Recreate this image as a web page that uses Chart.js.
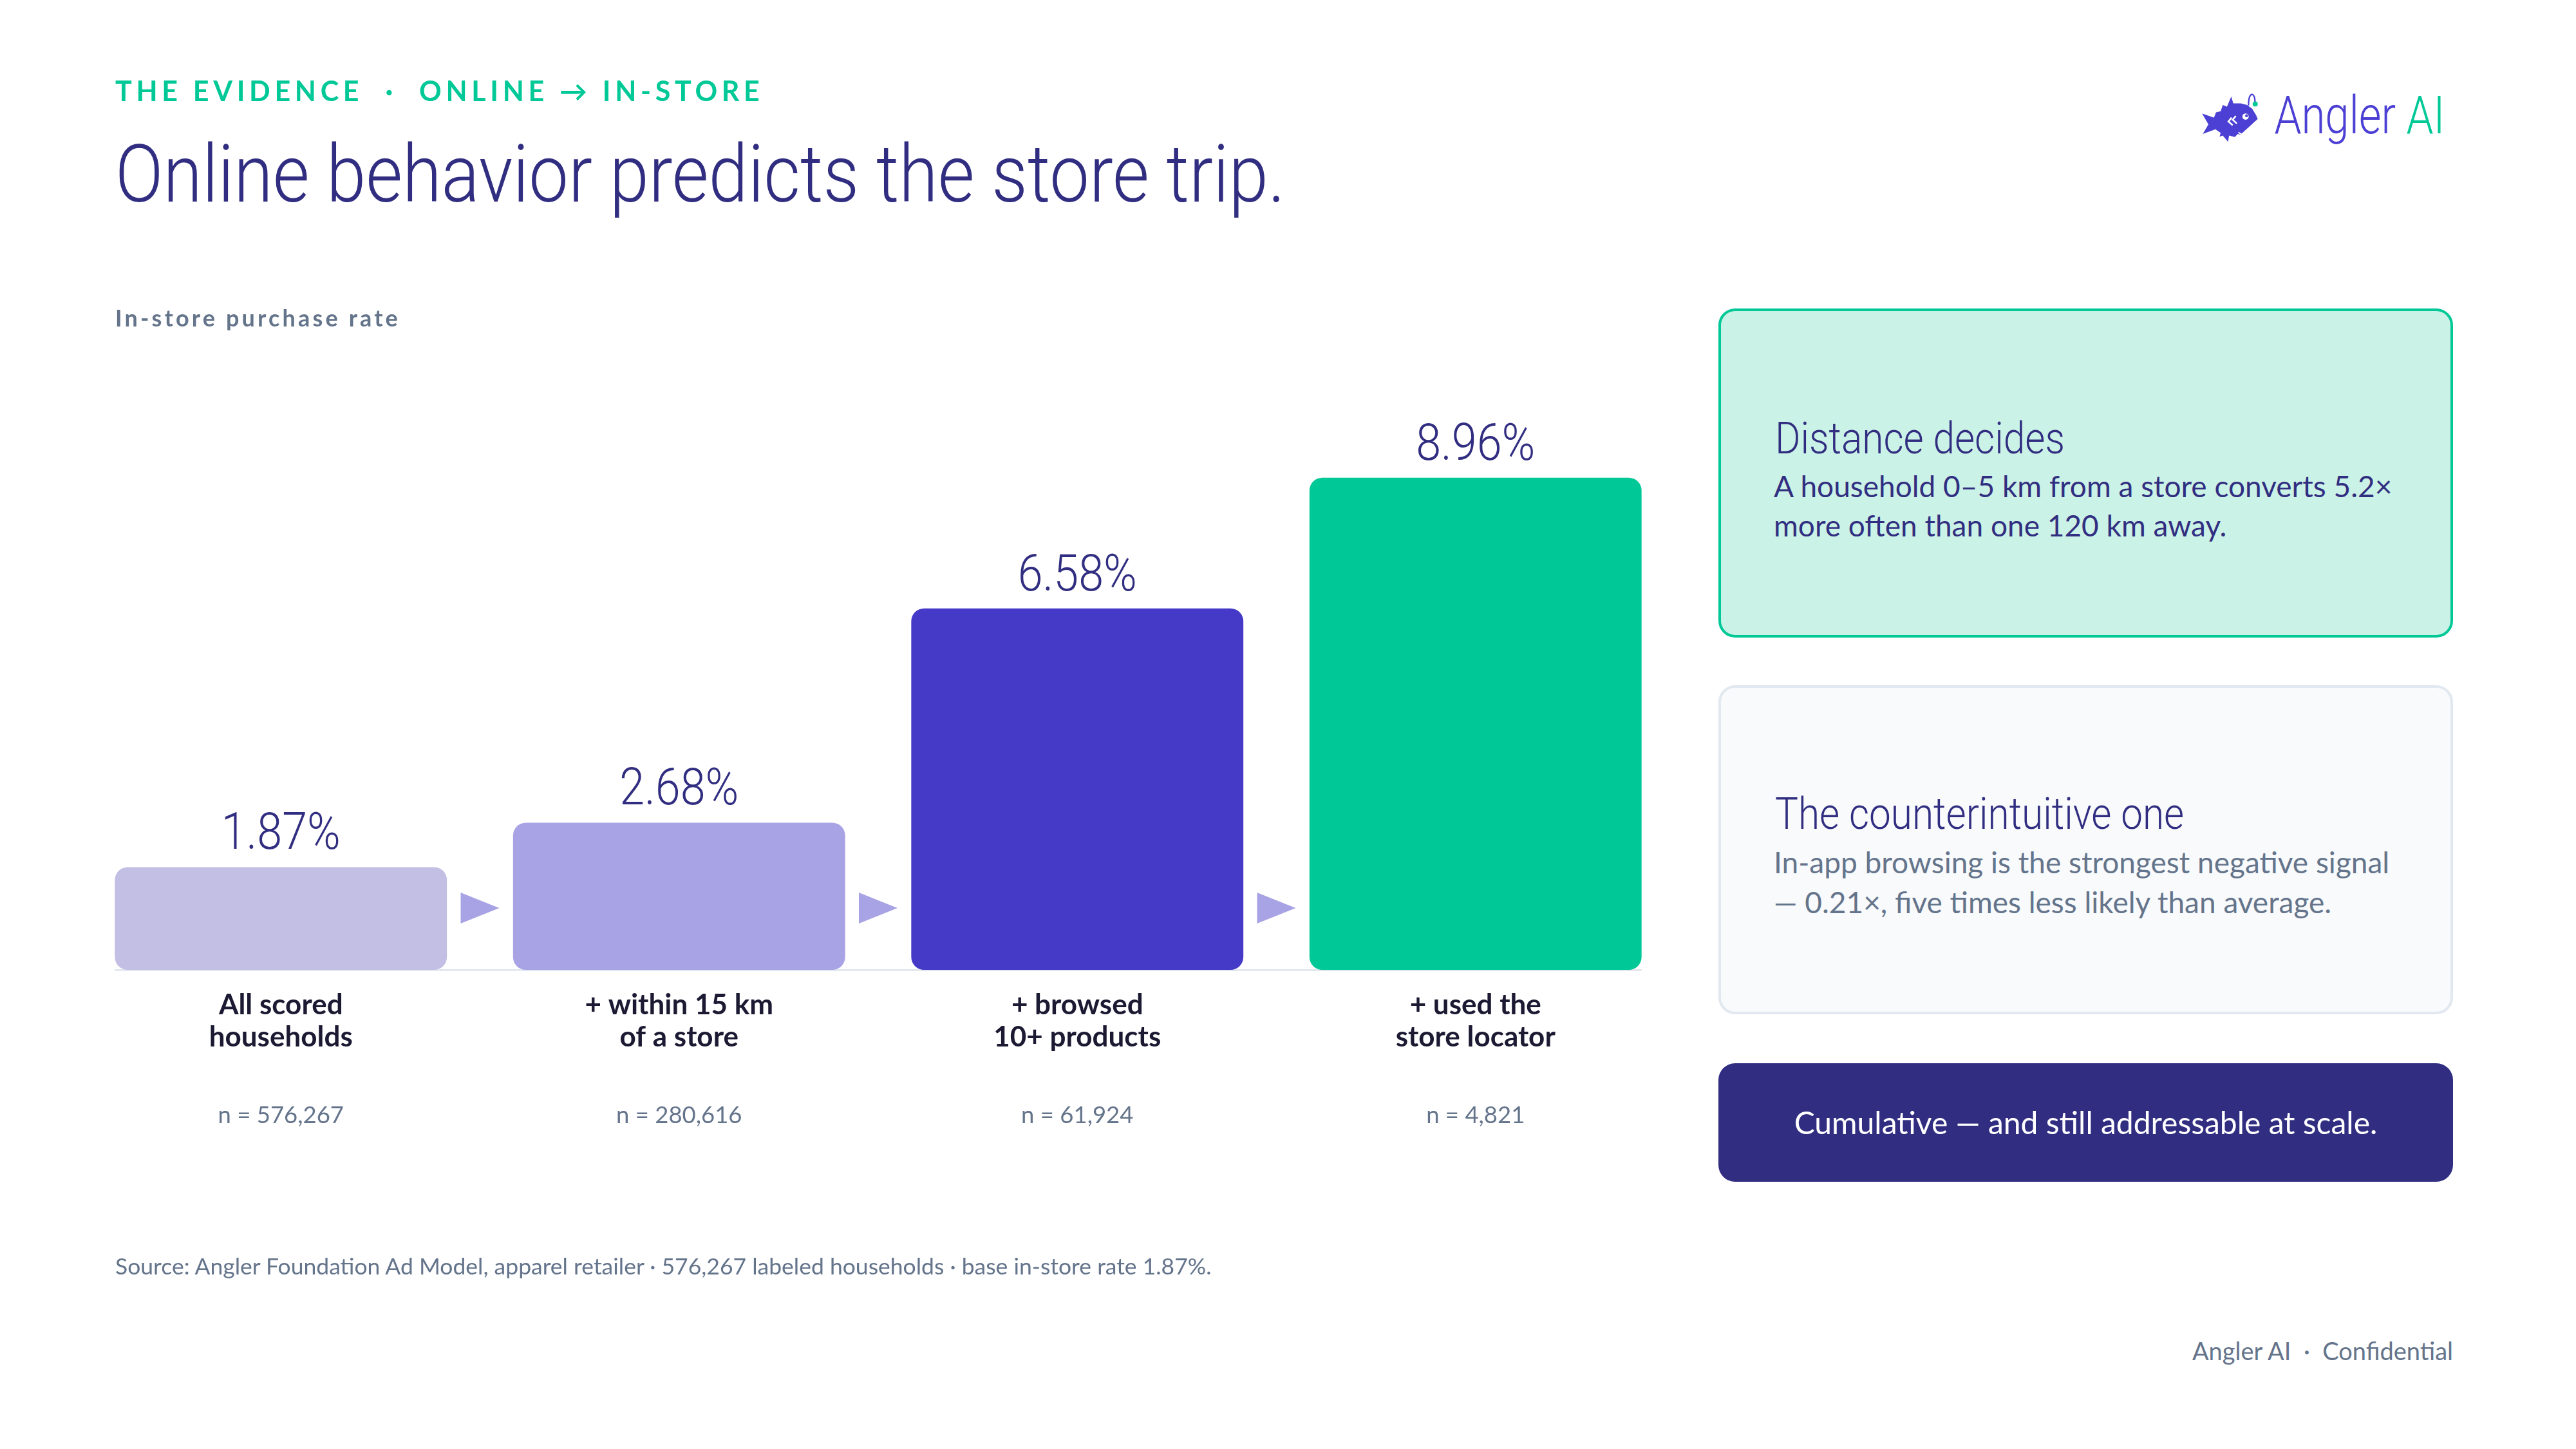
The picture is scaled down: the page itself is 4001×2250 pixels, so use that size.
<!DOCTYPE html>
<html>
<head>
<meta charset="utf-8">
<script src="https://cdn.jsdelivr.net/npm/chart.js"></script>
<style>
html,body{margin:0;padding:0;background:#fff;}
#page{position:relative;width:4001px;height:2250px;overflow:hidden;background:#fff;font-family:Lato,"Noto Sans",sans-serif;}
.abs{position:absolute;white-space:nowrap;}
.cond{font-family:Roboto,sans-serif;font-weight:300;transform-origin:0 0;line-height:1.171;}
.lato{font-family:Lato,sans-serif;line-height:1.2;}
.card{position:absolute;box-sizing:border-box;border-radius:26px;}
#c{position:absolute;left:0;top:0;}
</style>
</head>
<body>
<div id="page">
  <canvas id="c" width="2700" height="2250"></canvas>

  <div class="abs lato" style="left:179px;top:115px;font-size:43px;font-weight:700;letter-spacing:0.155em;color:#00c896;">THE EVIDENCE &nbsp;·&nbsp; ONLINE → IN-STORE</div>
  <div class="abs cond" style="left:179px;top:198px;font-size:124px;color:#312e81;">Online behavior predicts the store trip.</div>
  <div class="abs lato" style="left:179px;top:472px;font-size:36px;font-weight:700;letter-spacing:0.115em;color:#64748b;">In-store purchase rate</div>

  <!-- logo -->
  <svg class="abs" style="left:3418px;top:145px;" width="90" height="78" viewBox="55 45 275 238">
    <path d="M62,140 L118,160 L128,135 L150,130 L160,100 L180,108 L200,60 L210,92 L245,92 L275,100 L300,118 L318,148 L326,166 L245,240 L230,238 L218,252 L190,245 L185,275 L160,245 L145,250 L150,232 L125,215 L65,237 L92,192 Z" fill="#4b3fd4"/>
    <path d="M202,160 L187,178 L207,196 M222,152 L207,170 L227,188" stroke="#fff" stroke-width="8" fill="none"/>
    <path d="M234,230 L256,242 L318,178" stroke="#fff" stroke-width="6" fill="none"/>
    <circle cx="268" cy="155" r="15" fill="#fff"/>
    <circle cx="273" cy="151" r="7" fill="#4b3fd4"/>
    <path d="M282,102 Q283,48 300,50 Q313,54 313,88" stroke="#4b3fd4" stroke-width="7" fill="none"/>
    <circle cx="314" cy="95" r="12" fill="#00c896"/>
  </svg>
  <div class="abs cond" id="logoTxt" style="top:131px;font-size:82px;"><span style="color:#4b3fd4">Angler</span> <span style="color:#00c896">AI</span></div>

  <!-- cards -->
  <div class="card" style="left:2669px;top:479px;width:1141px;height:511px;background:#cbf2e6;border:4px solid #00c896;"></div>
  <div class="abs cond" style="left:2757px;top:642px;font-size:68px;color:#312e81;">Distance decides</div>
  <div class="abs lato" style="left:2755px;top:724px;font-size:46px;line-height:61px;color:#312e81;">A household 0–5 km from a store converts 5.2×<br>more often than one 120 km away.</div>

  <div class="card" style="left:2669px;top:1064px;width:1141px;height:511px;background:#f8fafc;border:4px solid #e2e8f0;"></div>
  <div class="abs cond" style="left:2757px;top:1225px;font-size:68px;color:#312e81;">The counterintuitive one</div>
  <div class="abs lato" style="left:2755px;top:1308px;font-size:46px;line-height:62px;color:#64748b;">In-app browsing is the strongest negative signal<br>— 0.21×, five times less likely than average.</div>

  <div class="card" style="left:2669px;top:1651px;width:1141px;height:184px;background:#312e81;"></div>
  <div class="abs lato" style="left:2669px;width:1141px;text-align:center;top:1714px;font-size:48px;color:#fff;">Cumulative — and still addressable at scale.</div>

  <!-- footer -->
  <div class="abs lato" style="left:179px;top:1945px;font-size:35.5px;color:#64748b;">Source: Angler Foundation Ad Model, apparel retailer · 576,267 labeled households · base in-store rate 1.87%.</div>
  <div class="abs lato" style="right:191px;top:2075px;font-size:38px;color:#64748b;">Angler AI &nbsp;·&nbsp; Confidential</div>
</div>

<script>
// ---- data ----
const categories = [
  ["All scored", "households"],
  ["+ within 15 km", "of a store"],
  ["+ browsed", "10+ products"],
  ["+ used the", "store locator"]
];
const rates = [1.87, 2.68, 6.58, 8.96];
const counts = ["n = 576,267", "n = 280,616", "n = 61,924", "n = 4,821"];
const barColors = ["#c3bfe4", "#a8a3e4", "#4539c8", "#00c896"];
const yMin = 0, yMax = 10;

// ---- condensed display font factor (Roboto Light squeezed to match the reference face) ----
const mctx = document.createElement('canvas').getContext('2d');
mctx.font = '300 124px Roboto';
const K = 1817 / mctx.measureText('Online behavior predicts the store trip.').width;
mctx.font = '300 82px Roboto';
const KL = 265 / mctx.measureText('Angler AI').width;

document.querySelectorAll('.cond').forEach(el => {
  el.style.transform = 'scaleX(' + K + ')';
});
const logo = document.getElementById('logoTxt');
logo.style.transformOrigin = '100% 0';
logo.style.transform = 'scaleX(' + KL + ')';
logo.style.right = (4001 - 3797) + 'px';

const deco = {
  id: 'deco',
  beforeDatasetsDraw(chart) {
    const ctx = chart.ctx, meta = chart.getDatasetMeta(0);
    const y0 = chart.scales.y.getPixelForValue(0);
    const a = meta.data[0], b = meta.data[meta.data.length - 1];
    ctx.save();
    ctx.strokeStyle = '#e2e8f0';
    ctx.lineWidth = 3;
    ctx.beginPath();
    ctx.moveTo(a.x - a.width / 2, y0 + 0.5);
    ctx.lineTo(b.x + b.width / 2, y0 + 0.5);
    ctx.stroke();
    ctx.restore();
  },
  afterDatasetsDraw(chart) {
    const ctx = chart.ctx, meta = chart.getDatasetMeta(0);
    const y0 = chart.scales.y.getPixelForValue(0);
    ctx.save();
    ctx.fillStyle = '#a8a3e4';
    for (let i = 0; i < meta.data.length - 1; i++) {
      const l = meta.data[i].x + meta.data[i].width / 2;
      const r = meta.data[i + 1].x - meta.data[i + 1].width / 2;
      const cx = (l + r) / 2, cy = y0 - 96;
      ctx.beginPath();
      ctx.moveTo(cx - 30, cy - 24);
      ctx.lineTo(cx + 30, cy);
      ctx.lineTo(cx - 30, cy + 24);
      ctx.closePath();
      ctx.fill();
    }
    meta.data.forEach((bar, i) => {
      ctx.save();
      ctx.translate(bar.x, bar.y - 28);
      ctx.scale(K, 1);
      ctx.font = '300 79px Roboto';
      ctx.fillStyle = '#312e81';
      ctx.textAlign = 'center';
      ctx.textBaseline = 'alphabetic';
      ctx.fillText(rates[i].toFixed(2) + '%', 0, 0);
      ctx.restore();
      ctx.font = '700 44px Lato';
      ctx.fillStyle = '#1c1a33';
      ctx.textAlign = 'center';
      ctx.textBaseline = 'alphabetic';
      categories[i].forEach((line, j) => ctx.fillText(line, bar.x, y0 + 69 + j * 50));
      ctx.font = '400 36.5px Lato';
      ctx.fillStyle = '#64748b';
      ctx.fillText(counts[i], bar.x, y0 + 238);
    });
    ctx.restore();
  }
};

new Chart(document.getElementById('c'), {
  type: 'bar',
  data: {
    labels: categories,
    datasets: [{
      data: rates,
      backgroundColor: barColors,
      borderRadius: 20,
      borderSkipped: false,
      barPercentage: 0.834,
      categoryPercentage: 1.0
    }]
  },
  options: {
    responsive: false,
    animation: false,
    layout: { padding: { left: 127, right: 99, top: 653, bottom: 744 } },
    plugins: { legend: { display: false }, tooltip: { enabled: false } },
    scales: {
      x: { display: false, grid: { display: false } },
      y: { display: false, min: yMin, max: yMax, grid: { display: false } }
    }
  },
  plugins: [deco]
});
</script>
</body>
</html>
